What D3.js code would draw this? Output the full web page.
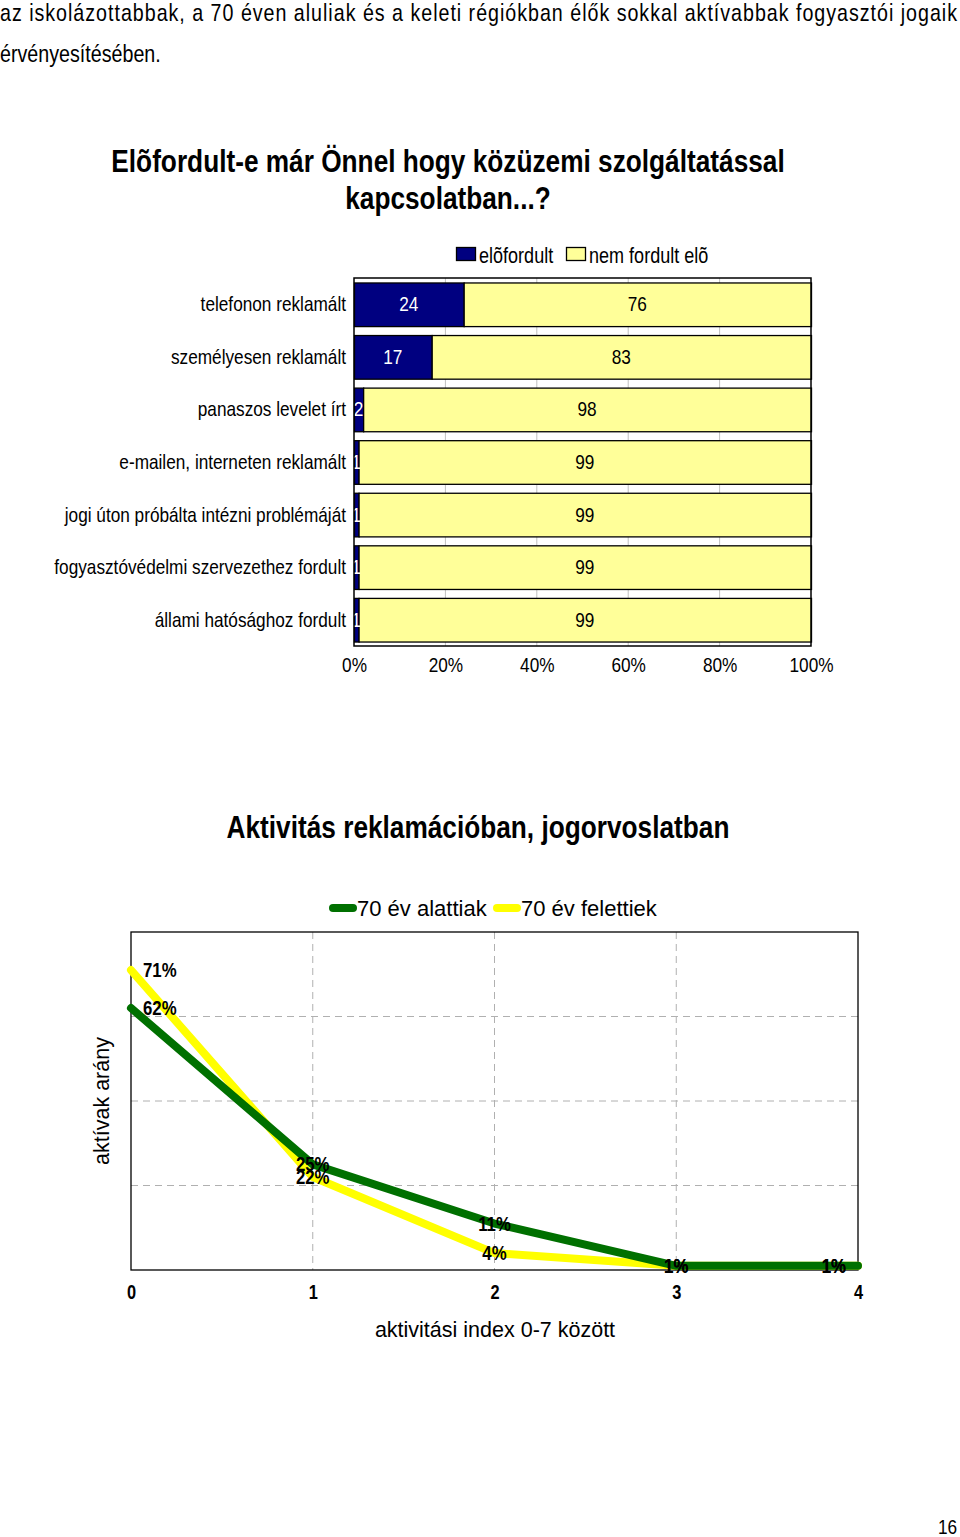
<!DOCTYPE html>
<html>
<head>
<meta charset="utf-8">
<script src="https://cdn.jsdelivr.net/npm/d3@7"></script>
<style>
  body { margin: 0; background: #fff; }
  svg { display: block; }
  text { font-family: "Liberation Sans", Arial, sans-serif; fill: #000; }
</style>
</head>
<body>
<svg id="page" width="960" height="1537"></svg>
<script>
// bar chart data
const barCategories = ['telefonon reklamált', 'személyesen reklamált', 'panaszos levelet írt',
  'e-mailen, interneten reklamált', 'jogi úton próbálta intézni problémáját',
  'fogyasztóvédelmi szervezethez fordult', 'állami hatósághoz fordult'];
const occurred = [24, 17, 2, 1, 1, 1, 1];
const notOccurred = [76, 83, 98, 99, 99, 99, 99];
const barSeries = ['elõfordult', 'nem fordult elõ'];
const barTicks = [0, 20, 40, 60, 80, 100];

// line chart data
const lineX = [0, 1, 2, 3, 4];
const under70 = [62, 25, 11, 1, 1];
const over70 = [71, 22, 4, 1, 1];
const lineSeries = ['70 év alattiak', '70 év felettiek'];

const NARROW = 'scale(0.82,1)'; // no Arial Narrow installed, squeeze Liberation Sans instead

const svg = d3.select('#page');

// narrow text helper: g at (x,y), squeezed text inside
function nt(parent, x, y, str, size, anchor, bold) {
  const g = parent.append('g').attr('transform', `translate(${x},${y}) ${NARROW}`);
  return g.append('text').attr('font-size', size).attr('text-anchor', anchor || 'start')
    .attr('font-weight', bold ? 'bold' : 'normal').text(str);
}

// intro paragraph
svg.append('g').attr('transform', 'translate(0,21) ' + NARROW).append('text')
  .attr('font-size', 24).attr('textLength', 957 / 0.82).attr('lengthAdjust', 'spacing')
  .text('az iskolázottabbak, a 70 éven aluliak és a keleti régiókban élők sokkal aktívabbak fogyasztói jogaik');
nt(svg, 0, 62, 'érvényesítésében.', 24);

// ---------- bar chart ----------
nt(svg, 448, 172, 'Elõfordult-e már Önnel hogy közüzemi szolgáltatással', 32, 'middle', true);
nt(svg, 448, 209, 'kapcsolatban...?', 32, 'middle', true);

const bx = d3.scaleLinear().domain([0, 100]).range([354, 811]);
const by = d3.scaleBand().domain(barCategories).range([278, 646]).paddingInner(0.17).paddingOuter(0.085);
const barColors = ['#000080', '#ffff99'];

const bg = svg.append('g');
// grid
bg.selectAll('.grid').data(barTicks.slice(1, -1)).enter().append('line')
  .attr('x1', d => bx(d)).attr('x2', d => bx(d)).attr('y1', 278).attr('y2', 646)
  .attr('stroke', '#c0c0c0').attr('stroke-width', 1);

const stacked = barCategories.map((c, i) => [
  { cat: c, x0: 0, x1: occurred[i], v: occurred[i], s: 0 },
  { cat: c, x0: occurred[i], x1: 100, v: notOccurred[i], s: 1 }
]).flat();

bg.selectAll('.bar').data(stacked).enter().append('rect')
  .attr('x', d => bx(d.x0) + 0.5).attr('y', d => by(d.cat) + 0.5)
  .attr('width', d => bx(d.x1) - bx(d.x0)).attr('height', by.bandwidth())
  .attr('fill', d => barColors[d.s]).attr('stroke', '#000').attr('stroke-width', 1.3);

stacked.forEach(d => {
  nt(bg, bx((d.x0 + d.x1) / 2), by(d.cat) + by.bandwidth() / 2 + 7, d.v, 21, 'middle')
    .style('fill', d.s === 0 ? '#fff' : '#000');
});

// frame
bg.append('rect').attr('x', 354).attr('y', 278).attr('width', 457).attr('height', 368)
  .attr('fill', 'none').attr('stroke', '#000').attr('stroke-width', 1.5);

// category labels
barCategories.forEach(c => nt(bg, 346, by(c) + by.bandwidth() / 2 + 7, c, 21, 'end'));

// x axis
const bAxis = bg.append('g').attr('transform', 'translate(0,646)')
  .call(d3.axisBottom(bx).tickValues(barTicks).tickFormat(d => d + '%').tickSize(0).tickPadding(11));
bAxis.select('.domain').remove();
bAxis.selectAll('text').attr('font-size', 21).attr('font-family', null).attr('transform', NARROW);

// legend
barSeries.forEach((s, i) => {
  const lx0 = [456, 566][i];
  bg.append('rect').attr('x', lx0 + 0.5).attr('y', 247.5).attr('width', 19).attr('height', 13)
    .attr('fill', barColors[i]).attr('stroke', '#000').attr('stroke-width', 1.3);
  nt(bg, lx0 + 23, 263, s, 22);
});

// ---------- line chart ----------
nt(svg, 478, 838, 'Aktivitás reklamációban, jogorvoslatban', 32, 'middle', true);

const lx = d3.scaleLinear().domain([0, 4]).range([131, 858]);
const ly = d3.scaleLinear().domain([0, 80]).range([1270, 932]);
const lg = svg.append('g');

// dashed grid
lg.selectAll('.hg').data([20, 40, 60]).enter().append('line')
  .attr('x1', 131).attr('x2', 858).attr('y1', d => ly(d)).attr('y2', d => ly(d))
  .attr('stroke', '#b0b0b0').attr('stroke-dasharray', '7,5');
lg.selectAll('.vg').data([1, 2, 3]).enter().append('line')
  .attr('x1', d => lx(d)).attr('x2', d => lx(d)).attr('y1', 932).attr('y2', 1270)
  .attr('stroke', '#b0b0b0').attr('stroke-dasharray', '7,5');

lg.append('rect').attr('x', 131).attr('y', 932).attr('width', 727).attr('height', 338)
  .attr('fill', 'none').attr('stroke', '#000').attr('stroke-width', 1.3);

const lineColors = ['#007000', '#ffff00'];
const line = d3.line().x((d, i) => lx(lineX[i])).y(d => ly(d));
[[over70, 1], [under70, 0]].forEach(([vals, ci]) => {
  lg.append('path').attr('d', line(vals)).attr('fill', 'none')
    .attr('stroke', lineColors[ci]).attr('stroke-width', 8)
    .attr('stroke-linecap', 'round').attr('stroke-linejoin', 'round');
});

// data labels
[under70, over70].forEach(vals => {
  vals.forEach((d, i) => {
    const last = i === vals.length - 1;
    nt(lg, lx(lineX[i]) + (i === 0 ? 12 : last ? -12 : 0), ly(d) + 7, d + '%', 20.5,
      i === 0 ? 'start' : last ? 'end' : 'middle', true);
  });
});

// x axis labels
const lAxis = lg.append('g').attr('transform', 'translate(0,1270)')
  .call(d3.axisBottom(lx).tickValues(lineX).tickFormat(d3.format('d')).tickSize(0).tickPadding(15));
lAxis.select('.domain').remove();
lAxis.selectAll('text').attr('font-size', 20).attr('font-weight', 'bold')
  .attr('font-family', null).attr('transform', NARROW);

svg.append('text').attr('font-size', 21.5).attr('text-anchor', 'middle')
  .attr('x', 495).attr('y', 1337).text('aktivitási index 0-7 között');
svg.append('text').attr('font-size', 21.5).attr('text-anchor', 'middle')
  .attr('transform', 'translate(109,1101) rotate(-90)').text('aktívak arány');

// legend
lineSeries.forEach((s, i) => {
  const x0 = [333, 497][i];
  lg.append('line').attr('x1', x0).attr('x2', x0 + 20).attr('y1', 908).attr('y2', 908)
    .attr('stroke', lineColors[i]).attr('stroke-width', 8).attr('stroke-linecap', 'round');
  lg.append('text').attr('font-size', 22).attr('x', x0 + 24).attr('y', 916).text(s);
});

// page number
nt(svg, 938, 1534, '16', 21);
</script>
</body>
</html>
